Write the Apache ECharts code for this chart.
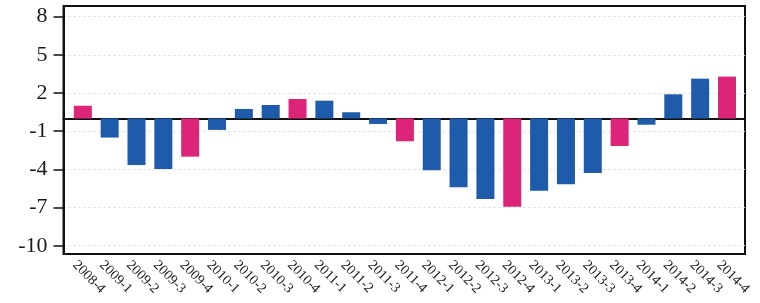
<!DOCTYPE html>
<html>
<head>
<meta charset="utf-8">
<script src="https://cdn.jsdelivr.net/npm/echarts@6/dist/echarts.min.js"></script>
<style>
  html, body { margin: 0; padding: 0; background: #fff; }
  #chart { width: 760px; height: 303px; }
</style>
</head>
<body>
<div id="chart"></div>
<script>
// 季度
const categories = ['2008-4', '2009-1', '2009-2', '2009-3', '2009-4', '2010-1', '2010-2', '2010-3', '2010-4',
    '2011-1', '2011-2', '2011-3', '2011-4', '2012-1', '2012-2', '2012-3', '2012-4',
    '2013-1', '2013-2', '2013-3', '2013-4', '2014-1', '2014-2', '2014-3', '2014-4'];
// 数值
const values = [1.0, -1.5, -3.66, -3.97, -3.0, -0.9, 0.75, 1.06, 1.53,
    1.4, 0.49, -0.43, -1.79, -4.07, -5.41, -6.33, -6.93,
    -5.68, -5.17, -4.28, -2.16, -0.49, 1.9, 3.13, 3.29];
// y轴刻度
const yTicks = [-10, -7, -4, -1, 2, 5, 8];

const yMin = -10.65;
const yMax = 8.84;
const serif = 'Liberation Serif';

const chart = echarts.init(document.getElementById('chart'));

chart.setOption({
    animation: false,
    grid: [
        // 外框 + y轴
        { left: 63.5, right: 15, top: 6, bottom: 49, show: true, borderColor: '#111', borderWidth: 2, backgroundColor: 'transparent' },
        // 柱子
        { left: 69.4, right: 19.6, top: 6, bottom: 49 },
        // x轴标签（略微左移）
        { left: 61.4, right: 27.6, top: 6, bottom: 49 }
    ],
    xAxis: [
        {
            gridIndex: 0, type: 'value', min: 0, max: 1,
            axisLine: { show: true, onZero: true, lineStyle: { color: '#111', width: 2 } },
            axisTick: { show: false }, axisLabel: { show: false }, splitLine: { show: false }
        },
        {
            gridIndex: 1, type: 'category', data: categories,
            axisLine: { show: false }, axisTick: { show: false }, axisLabel: { show: false }
        },
        {
            gridIndex: 2, type: 'category', data: categories,
            axisLine: { show: false }, axisTick: { show: false },
            axisLabel: {
                interval: 0, rotate: -45, margin: 9,
                fontFamily: serif, fontSize: 14, color: '#1a1a1a'
            }
        }
    ],
    yAxis: [
        {
            gridIndex: 0, type: 'value', min: yMin, max: yMax,
            axisLine: { show: true, lineStyle: { color: '#111', width: 2 } },
            axisTick: { show: true, length: 10, customValues: yTicks, lineStyle: { color: '#111', width: 1.5 } },
            axisLabel: { customValues: yTicks, margin: 16, fontFamily: serif, fontSize: 22, color: '#1a1a1a' },
            splitLine: { show: true, lineStyle: { color: '#dadada', type: [2, 3], width: 1 } }
        },
        { gridIndex: 1, type: 'value', min: yMin, max: yMax, show: false, splitLine: { show: false } },
        { gridIndex: 2, type: 'value', min: yMin, max: yMax, show: false, splitLine: { show: false } }
    ],
    series: [
        {
            type: 'bar',
            xAxisIndex: 1,
            yAxisIndex: 1,
            barWidth: 18,
            data: values.map((v, i) => ({
                value: v,
                itemStyle: { color: categories[i].endsWith('-4') ? '#dc2578' : '#1f5bab' }
            }))
        }
    ]
});
</script>
</body>
</html>
